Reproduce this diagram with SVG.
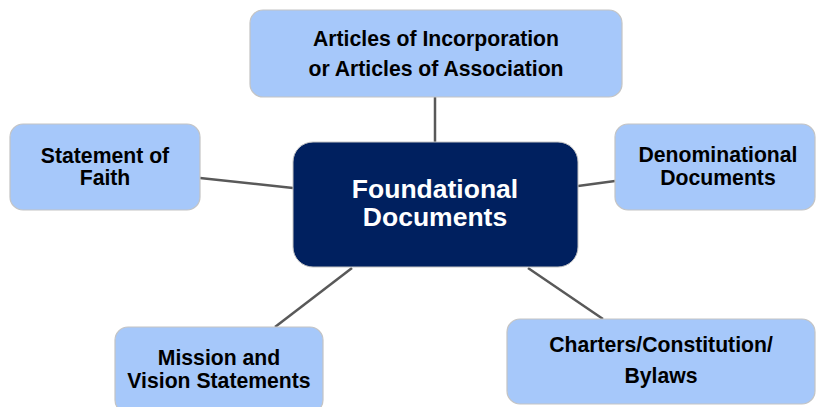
<svg xmlns="http://www.w3.org/2000/svg" width="816" height="407" viewBox="0 0 816 407">
<style>
.box{fill:#A6C8FA;stroke:#C4C4C4;stroke-width:1.2}
.ctr{fill:#00205F;stroke:#C4C4C4;stroke-width:1}
.t{font-family:"Liberation Sans",Arial,sans-serif;font-weight:bold;font-size:21.2px;fill:#000;text-anchor:middle}
.tc{font-family:"Liberation Sans",Arial,sans-serif;font-weight:bold;font-size:26.5px;fill:#fff;text-anchor:middle}
.c{stroke:#595959;stroke-width:2.5;fill:none}
</style>
<rect width="816" height="407" fill="#fff"/>
<g id="connectors">
<line class="c" x1="435" y1="97" x2="435" y2="142"/>
<line class="c" x1="200" y1="178" x2="293" y2="188"/>
<line class="c" x1="578" y1="186" x2="615" y2="181"/>
<line class="c" x1="352" y1="268" x2="275" y2="327"/>
<line class="c" x1="528" y1="268" x2="603" y2="319"/>
</g>
<g id="center">
<rect class="ctr" x="293" y="142" width="285" height="125" rx="20"/>
<text class="tc" x="435" y="198">Foundational</text>
<text class="tc" x="435" y="226">Documents</text>
</g>
<g id="articles">
<rect class="box" x="250" y="10" width="372" height="87" rx="13"/>
<text class="t" x="436" y="46">Articles of Incorporation</text>
<text class="t" x="436" y="76">or Articles of Association</text>
</g>
<g id="faith">
<rect class="box" x="10" y="124" width="190" height="86" rx="13"/>
<text class="t" x="105" y="163">Statement of</text>
<text class="t" x="105" y="185">Faith</text>
</g>
<g id="denominational">
<rect class="box" x="615" y="124" width="200" height="86" rx="13"/>
<text class="t" x="718" y="162">Denominational</text>
<text class="t" x="718" y="185">Documents</text>
</g>
<g id="mission">
<rect class="box" x="115" y="327" width="208" height="86" rx="13"/>
<text class="t" x="219" y="365">Mission and</text>
<text class="t" x="219" y="388">Vision Statements</text>
</g>
<g id="charters">
<rect class="box" x="507" y="319" width="308" height="85" rx="13"/>
<text class="t" x="661" y="352">Charters/Constitution/</text>
<text class="t" x="661" y="383">Bylaws</text>
</g>
</svg>
